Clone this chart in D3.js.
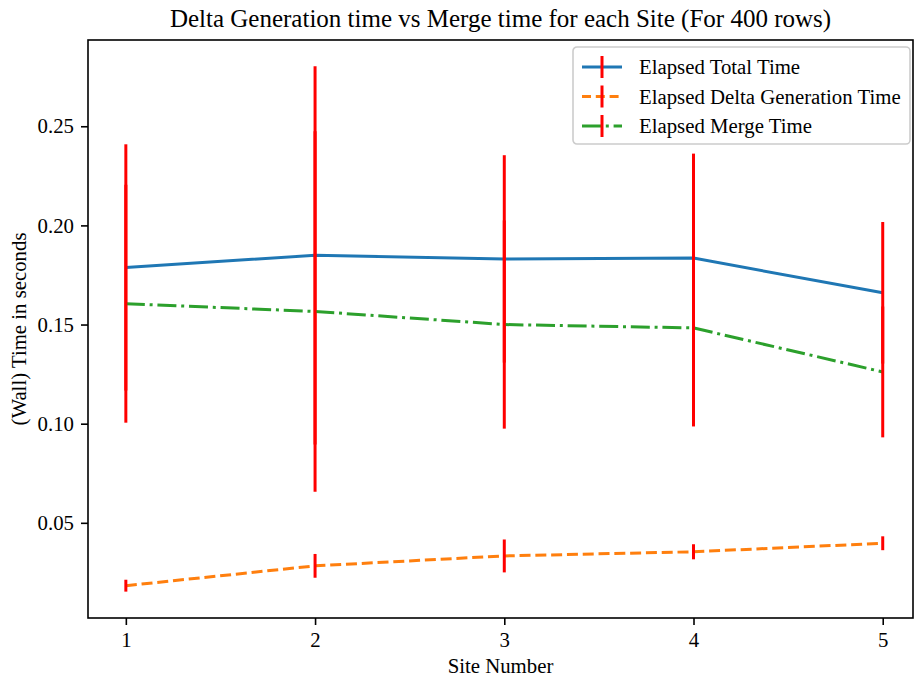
<!DOCTYPE html>
<html>
<head>
<meta charset="utf-8">
<script src="https://cdn.jsdelivr.net/npm/d3@7"></script>
<style>
  body { margin: 0; background: #fff; }
  svg { display: block; font-family: "Liberation Serif", "Times New Roman", serif; }
</style>
</head>
<body>
<div id="chart"></div>
<script>
const sites = [1, 2, 3, 4, 5];
const totalTime = [0.1788, 0.1849, 0.1831, 0.1835, 0.1660];
const totalErr = [0.0621, 0.0954, 0.0523, 0.0527, 0.0357];
const deltaTime = [0.0183, 0.0283, 0.0333, 0.0354, 0.0397];
const deltaErr = [0.0030, 0.0060, 0.0083, 0.0038, 0.0035];
const mergeTime = [0.1605, 0.1566, 0.1500, 0.1483, 0.1261];
const mergeErr = [0.0600, 0.0909, 0.0525, 0.0497, 0.0330];
const yTicks = [0.05, 0.10, 0.15, 0.20, 0.25];
const seriesNames = ["Elapsed Total Time", "Elapsed Delta Generation Time", "Elapsed Merge Time"];

const width = 914, height = 678;
const plot = {left: 88, right: 913, top: 40, bottom: 618};

const svg = d3.select("#chart").append("svg")
  .attr("width", width)
  .attr("height", height);

const x = d3.scaleLinear()
  .domain([0.8, 5.16])
  .range([plot.left, plot.right]);

const y = d3.scaleLinear()
  .domain([0.002, 0.2935])
  .range([plot.bottom, plot.top]);

// series styles, same order as matplotlib draws them
const series = [
  {name: seriesNames[0], vals: totalTime, err: totalErr, color: "#1f77b4", dash: null, legDash: null},
  {name: seriesNames[1], vals: deltaTime, err: deltaErr, color: "#ff7f0e", dash: "11,4.8", legDash: "9,4.8"},
  {name: seriesNames[2], vals: mergeTime, err: mergeErr, color: "#2ca02c", dash: "19,4.8,3,4.8", legDash: "19,4.8,3,4.8"}
];

const line = d3.line()
  .x(function(d) { return x(d.site); })
  .y(function(d) { return y(d.v); });

const g = svg.append("g");
series.forEach(function(s) {
  const pts = sites.map(function(site, i) { return {site: site, v: s.vals[i], e: s.err[i]}; });
  g.append("path")
    .attr("d", line(pts))
    .attr("fill", "none")
    .attr("stroke", s.color)
    .attr("stroke-width", 3)
    .attr("stroke-dasharray", s.dash);
  g.selectAll(null)
    .data(pts)
    .enter()
    .append("line")
      .attr("x1", function(d) { return x(d.site); })
      .attr("x2", function(d) { return x(d.site); })
      .attr("y1", function(d) { return y(d.v - d.e); })
      .attr("y2", function(d) { return y(d.v + d.e); })
      .attr("stroke", "red")
      .attr("stroke-width", 3);
});

// axes
const xAxis = svg.append("g")
  .attr("transform", "translate(0," + plot.bottom + ")")
  .call(d3.axisBottom(x).tickValues(sites).tickFormat(d3.format("d")).tickSize(7).tickPadding(7));
const yAxis = svg.append("g")
  .attr("transform", "translate(" + plot.left + ",0)")
  .call(d3.axisLeft(y).tickValues(yTicks).tickFormat(d3.format(".2f")).tickSize(7).tickPadding(7));

[xAxis, yAxis].forEach(function(a) {
  a.select(".domain").remove();
  a.selectAll(".tick line").attr("stroke", "#000").attr("stroke-width", 1.6);
  a.selectAll(".tick text")
    .attr("fill", "#000")
    .style("font-size", "20.8px")
    .style("font-family", "Liberation Serif");
});

// frame
svg.append("rect")
  .attr("x", plot.left)
  .attr("y", plot.top)
  .attr("width", plot.right - plot.left)
  .attr("height", plot.bottom - plot.top)
  .attr("fill", "none")
  .attr("stroke", "#000")
  .attr("stroke-width", 1.6);

svg.append("text")
  .attr("x", (plot.left + plot.right) / 2)
  .attr("y", 27)
  .attr("text-anchor", "middle")
  .style("font-size", "25px")
  .text("Delta Generation time vs Merge time for each Site (For 400 rows)");

svg.append("text")
  .attr("x", (plot.left + plot.right) / 2)
  .attr("y", 673)
  .attr("text-anchor", "middle")
  .style("font-size", "20.8px")
  .text("Site Number");

svg.append("text")
  .attr("transform", "translate(26," + (plot.top + plot.bottom) / 2 + ") rotate(-90)")
  .attr("text-anchor", "middle")
  .style("font-size", "20.8px")
  .text("(Wall) Time in seconds");

// legend
const legend = svg.append("g").attr("transform", "translate(573,47)");
legend.append("rect")
  .attr("width", 337)
  .attr("height", 97)
  .attr("rx", 4)
  .attr("fill", "#fff")
  .attr("fill-opacity", 0.8)
  .attr("stroke", "#ccc")
  .attr("stroke-width", 1.6);

const item = legend.selectAll(".item")
  .data(series)
  .enter()
  .append("g")
    .attr("class", "item")
    .attr("transform", function(d, i) { return "translate(9," + (20 + i * 29.5) + ")"; });
item.append("line")
  .attr("x1", 0).attr("x2", 40)
  .attr("stroke", function(d) { return d.color; })
  .attr("stroke-width", 3)
  .attr("stroke-dasharray", function(d) { return d.legDash; });
item.append("line")
  .attr("x1", 20).attr("x2", 20)
  .attr("y1", -11).attr("y2", 11)
  .attr("stroke", "red")
  .attr("stroke-width", 3);
item.append("text")
  .attr("x", 57)
  .attr("dy", "0.35em")
  .style("font-size", "20.8px")
  .text(function(d) { return d.name; });
</script>
</body>
</html>
